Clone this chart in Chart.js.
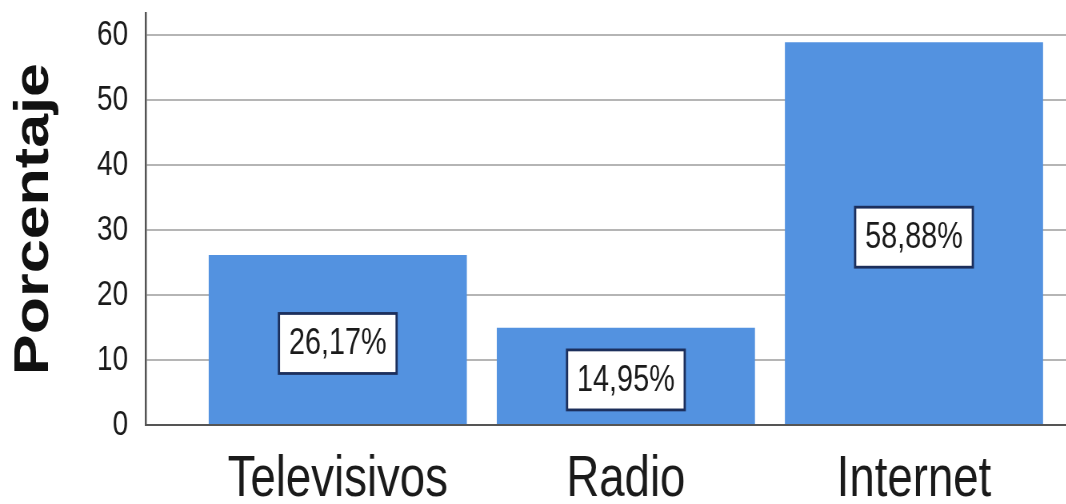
<!DOCTYPE html>
<html>
<head>
<meta charset="utf-8">
<script src="https://cdn.jsdelivr.net/npm/chart.js@4"></script>
<style>
  html, body { margin: 0; padding: 0; background: #ffffff; overflow: hidden; }
  #wrap { width: 1066px; height: 504px; position: relative; overflow: hidden; }
  #c { transform: scaleX(0.8); transform-origin: 0 0; display: block; }
</style>
</head>
<body>
<div id="wrap"><canvas id="c" width="1333" height="504"></canvas></div>
<script>
const categories = ["Televisivos", "Radio", "Internet"];
const percentages = [26.17, 14.95, 58.88];
const valueLabels = ["26,17%", "14,95%", "58,88%"];
const yTicks = [0, 10, 20, 30, 40, 50, 60];

const FONT = '"Liberation Sans", Arial, sans-serif';

const points = categories.map((c, i) => ({ x: i, y: percentages[i] }));

const boxLabels = {
  id: 'boxLabels',
  afterDatasetsDraw(chart) {
    const ctx = chart.ctx;
    const meta = chart.getDatasetMeta(0);
    ctx.save();
    ctx.font = '36px ' + FONT;
    ctx.textAlign = 'center';
    ctx.textBaseline = 'middle';
    meta.data.forEach((bar, i) => {
      const text = valueLabels[i];
      const cx = bar.x;
      const cy = (bar.y + bar.base) / 2 + 4;
      const w = ctx.measureText(text).width + 25;
      const h = 60;
      ctx.fillStyle = '#ffffff';
      ctx.fillRect(cx - w / 2, cy - h / 2, w, h);
      ctx.lineWidth = 2.8;
      ctx.strokeStyle = '#1c2f5c';
      ctx.strokeRect(cx - w / 2, cy - h / 2, w, h);
      ctx.fillStyle = '#1a1a1a';
      ctx.fillText(text, cx, cy + 1);
    });
    ctx.restore();
  }
};

new Chart(document.getElementById('c'), {
  type: 'bar',
  data: {
    datasets: [{
      data: points,
      backgroundColor: '#5392e0',
      borderWidth: 0,
      categoryPercentage: 1,
      barPercentage: 0.896
    }]
  },
  options: {
    responsive: false,
    animation: false,
    devicePixelRatio: 1,
    layout: { padding: { top: 13, right: 0, bottom: 0, left: 0 } },
    plugins: { legend: { display: false }, tooltip: { enabled: false } },
    scales: {
      x: {
        type: 'linear',
        offset: false,
        min: -0.6667,
        max: 2.529,
        afterBuildTicks(scale) {
          scale.ticks = categories.map((c, i) => ({ value: i }));
        },
        afterFit(scale) { scale.paddingLeft = 0; scale.paddingRight = 0; scale.height = 79; },
        grid: { display: false, drawTicks: false },
        border: { display: true, color: '#555555', width: 2 },
        ticks: {
          autoSkip: false,
          maxRotation: 0,
          padding: 32,
          color: '#1a1a1a',
          font: { family: FONT, size: 57, lineHeight: 0.83 },
          callback: (v) => categories[v] ?? ''
        }
      },
      y: {
        min: 0,
        max: 63.4,
        afterBuildTicks(scale) {
          scale.ticks = yTicks.map(v => ({ value: v }));
        },
        afterFit(scale) { scale.paddingTop = 0; scale.paddingBottom = 0; },
        grid: { color: '#b5b5b5', lineWidth: 2, drawTicks: false },
        border: { display: true, color: '#555555', width: 2.5 },
        ticks: {
          padding: 22,
          color: '#1a1a1a',
          font: { family: FONT, size: 35 }
        },
        title: {
          display: true,
          text: 'Porcentaje',
          color: '#111111',
          font: { family: FONT, size: 61, weight: 'bold' },
          padding: { top: 7, bottom: 19 }
        }
      }
    }
  },
  plugins: [boxLabels]
});
</script>
</body>
</html>
